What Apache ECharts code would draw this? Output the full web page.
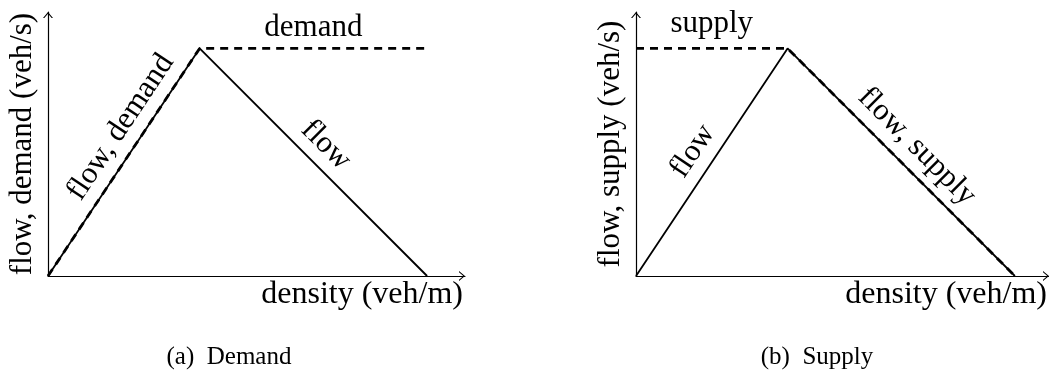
<!DOCTYPE html>
<html>
<head>
<meta charset="utf-8">
<script src="https://cdn.jsdelivr.net/npm/echarts@6/dist/echarts.min.js"></script>
<style>
  html, body { margin: 0; padding: 0; background: #fff; }
  #chart { width: 1049px; height: 371px; }
</style>
</head>
<body>
<div id="chart"></div>
<script>
// Triangular fundamental diagram: free-flow branch rises to capacity at the
// critical density, congested branch falls to zero at jam density.
const flowCurve   = [[0, 0], [0.4, 1], [1, 0]];   // flow vs density
const demandCurve = [[0, 0], [0.4, 1], [1, 1]];   // sending function
const supplyCurve = [[0, 1], [0.4, 1], [1, 0]];   // receiving function

const xNames   = ['density (veh/m)', 'density (veh/m)'];
const yNames   = ['flow, demand (veh/s)', 'flow, supply (veh/s)'];
const captions = ['(a)  Demand', '(b)  Supply'];

const FONT = '"Liberation Serif", "Times New Roman", serif';
const INK = '#000';

const chart = echarts.init(document.getElementById('chart'), null, { renderer: 'canvas' });

// open chevron arrowhead for the axis ends
const chevron = 'path://M0,6 L5,0 L10,6 L8.7,6 L5,1.7 L1.3,6 Z';

function axisPair(i, xMax) {
  const common = {
    type: 'value',
    gridIndex: i,
    min: 0,
    axisTick: { show: false },
    axisLabel: { show: false },
    splitLine: { show: false },
    axisLine: {
      show: true,
      onZero: false,
      symbol: ['none', chevron],
      symbolSize: [10, 6],
      symbolOffset: [0, -3],
      lineStyle: { color: INK, width: 1.2 }
    }
  };
  const x = Object.assign({}, common, {
    max: xMax,
    name: xNames[i],
    nameLocation: 'end',
    nameGap: -2,
    nameTextStyle: {
      fontFamily: FONT, fontSize: 32, color: INK,
      align: 'right', verticalAlign: 'top', padding: [3, 0, 0, 0]
    }
  });
  const y = Object.assign({}, common, {
    max: 1.16,
    name: yNames[i],
    nameLocation: 'middle',
    nameRotate: 90,
    nameGap: 10,
    nameTextStyle: { fontFamily: FONT, fontSize: 31, color: INK }
  });
  return { x, y };
}

const a0 = axisPair(0, 1.1);
const a1 = axisPair(1, 1.09);

function lineSeries(i, data, dashed) {
  return {
    type: 'line',
    xAxisIndex: i,
    yAxisIndex: i,
    data: data,
    showSymbol: false,
    symbol: 'none',
    clip: false,
    silent: true,
    z: dashed ? 3 : 2,
    lineStyle: dashed
      ? { color: INK, width: 2.8, type: [8, 6] }
      : { color: INK, width: 1.8 }
  };
}

chart.setOption({
  animation: false,
  backgroundColor: '#fff',
  grid: [
    { left: 48, top: 12, width: 417, height: 264, outerBoundsMode: 'none', containLabel: false },
    { left: 636, top: 12, width: 413, height: 264, outerBoundsMode: 'none', containLabel: false }
  ],
  xAxis: [a0.x, a1.x],
  yAxis: [a0.y, a1.y],
  series: [
    lineSeries(0, flowCurve, false),
    lineSeries(0, demandCurve, true),
    lineSeries(1, flowCurve, false),
    lineSeries(1, supplyCurve, true)
  ]
});

// Text laid along a segment between two data points of a panel:
// t = position along the segment, off = distance above it in pixels.
function segmentLabel(g, p0, p1, t, off, text) {
  const a = chart.convertToPixel({ xAxisIndex: g, yAxisIndex: g }, p0);
  const b = chart.convertToPixel({ xAxisIndex: g, yAxisIndex: g }, p1);
  const dx = b[0] - a[0], dy = b[1] - a[1];
  const rot = Math.atan2(-dy, dx);
  const px = a[0] + t * dx - Math.sin(rot) * off;
  const py = a[1] + t * dy - Math.cos(rot) * off;
  return {
    type: 'text', x: px, y: py, rotation: rot, silent: true,
    style: {
      text: text, fontFamily: FONT, fontSize: 31, fill: INK,
      align: 'center', verticalAlign: 'middle'
    }
  };
}

const graphics = [
  segmentLabel(0, demandCurve[0], demandCurve[1], 0.60, 22, 'flow, demand'),
  segmentLabel(0, flowCurve[1], flowCurve[2], 0.49, 21, 'flow'),
  segmentLabel(0, demandCurve[1], demandCurve[2], 0.5, 21, 'demand'),
  segmentLabel(1, flowCurve[0], flowCurve[1], 0.495, 22, 'flow'),
  segmentLabel(1, supplyCurve[1], supplyCurve[2], 0.5, 22, 'flow, supply'),
  segmentLabel(1, supplyCurve[0], supplyCurve[1], 0.5, 25, 'supply'),
  {
    type: 'text', x: 229, y: 357, silent: true,
    style: { text: captions[0], fontFamily: FONT, fontSize: 25, fill: INK, align: 'center', verticalAlign: 'middle' }
  },
  {
    type: 'text', x: 817, y: 357, silent: true,
    style: { text: captions[1], fontFamily: FONT, fontSize: 25, fill: INK, align: 'center', verticalAlign: 'middle' }
  }
];

chart.setOption({ graphic: graphics });
</script>
</body>
</html>
